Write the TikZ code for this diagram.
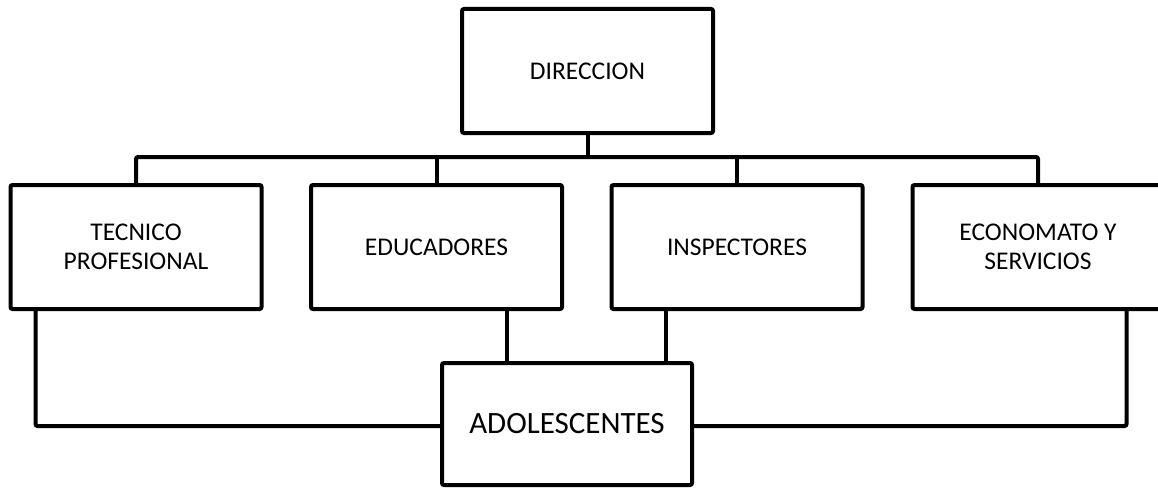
\documentclass[tikz,border=0pt]{standalone}
\usepackage{fontspec}
\setmainfont{Carlito}
\begin{document}
\begin{tikzpicture}[x=1pt,y=-1pt,
  box/.style={draw,line width=4pt,rounded corners=2pt,minimum width=251pt,minimum height=124pt,inner sep=0pt,align=center,font=\fontsize{25.5}{29}\selectfont},
  conn/.style={line width=4pt,rounded corners=2pt}]
\useasboundingbox (0,0) rectangle (1158,487);
\begin{scope}
\clip (0,0) rectangle (1158,487);
\node[box] (dir) at (587.5,71) {DIRECCION};
\node[box] (tec) at (136,247) {TECNICO\\PROFESIONAL};
\node[box] (edu) at (436.5,247) {EDUCADORES};
\node[box] (ins) at (737,247) {INSPECTORES};
\node[box] (eco) at (1038,247) {ECONOMATO Y\\SERVICIOS};
\node[box,minimum width=250pt,minimum height=122pt,font=\fontsize{31}{35}\selectfont] (ado) at (567,424) {ADOLESCENTES};
\coordinate (bus) at (587.5,157);
\draw[conn] (dir.south) -- (bus);
\draw[conn] (tec.north) |- (bus) -| (eco.north);
\draw[conn] (edu.north) -- (edu.north |- bus);
\draw[conn] (ins.north) -- (ins.north |- bus);
\draw[conn] ([xshift=27pt]tec.south west) |- ([yshift=-2pt]ado.west);
\draw[conn] ([xshift=-57pt]edu.south east) -- ([xshift=-57pt]edu.south east |- ado.north);
\draw[conn] ([xshift=56pt]ins.south west) -- ([xshift=56pt]ins.south west |- ado.north);
\draw[conn] ([xshift=216pt]eco.south west) |- ([yshift=-2pt]ado.east);
\end{scope}
\end{tikzpicture}
\end{document}
